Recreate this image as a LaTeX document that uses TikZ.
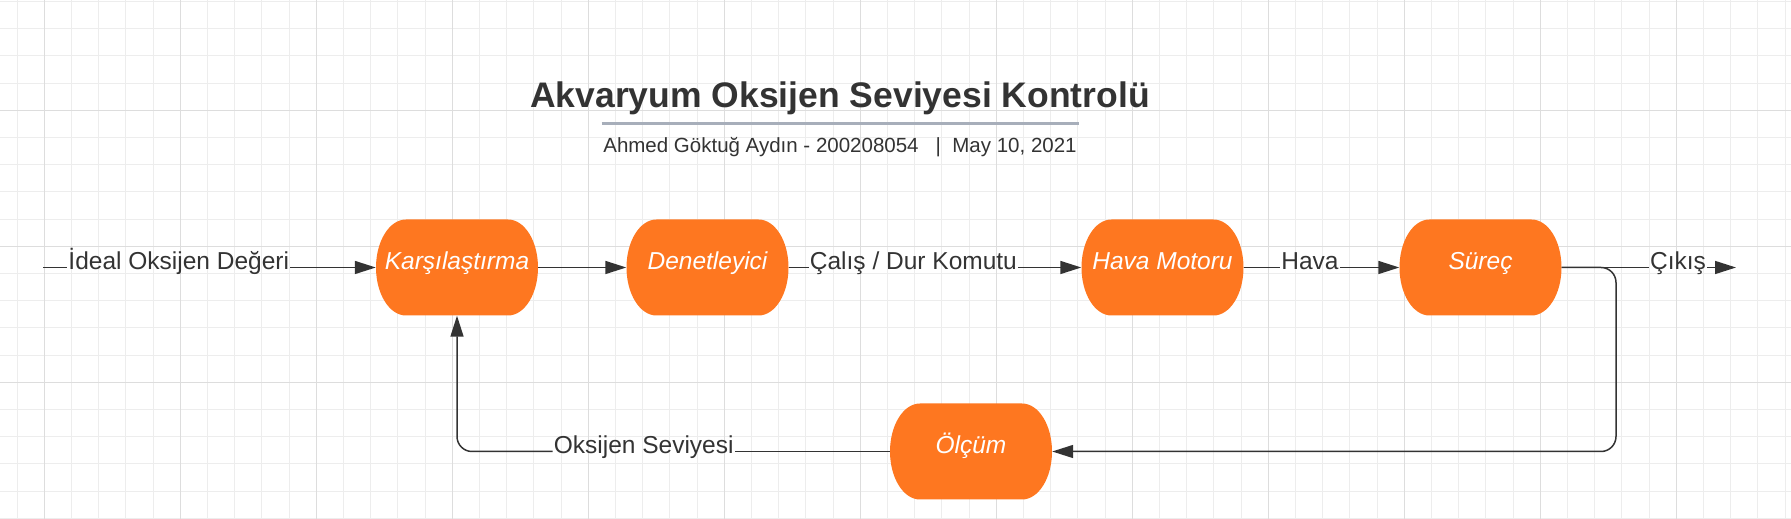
\documentclass[tikz,border=0pt]{standalone}
\usepackage{fontspec}
\setmainfont{Liberation Sans}
\usetikzlibrary{arrows.meta}
\definecolor{turuncu}{HTML}{FE7720}
\definecolor{koyu}{HTML}{333333}
\definecolor{izgara}{HTML}{EDEDED}
\definecolor{izgarakoyu}{HTML}{DDDDDD}
\definecolor{cizgi}{HTML}{A7AEBA}
\tikzset{
  blok/.style={rectangle, minimum width=162pt, minimum height=96pt, inner sep=0pt,
    text=white, font=\itshape\fontsize{24.5}{28}\selectfont, text height=.75em, text depth=.25em,
    path picture={\fill[turuncu] ([xshift=30pt]path picture bounding box.north west)
      -- ([xshift=-30pt]path picture bounding box.north east)
      arc[start angle=90, end angle=-90, x radius=30pt, y radius=48pt]
      -- ([xshift=30pt]path picture bounding box.south west)
      arc[start angle=270, end angle=90, x radius=30pt, y radius=48pt] -- cycle;}},
  etiket/.style={text=koyu, font=\fontsize{24.5}{28}\selectfont, text height=.75em, text depth=.25em,
    inner xsep=1pt, inner ysep=0pt},
  hat/.style={draw=koyu, line width=1.5pt},
  ok/.style={hat, -{Triangle[length=21pt,width=13pt]}}
}
\begin{document}
\begin{tikzpicture}[x=1pt,y=1pt]
\useasboundingbox (0,0) rectangle (1791,519);
\foreach \i in {0,...,65} \draw[izgara, line width=1pt] (17.1+27.2*\i,0) -- (17.1+27.2*\i,519);
\foreach \j in {0,...,19} \draw[izgara, line width=1pt] (0,517.5-27.2*\j) -- (1791,517.5-27.2*\j);
\foreach \i in {0,...,12} \draw[izgarakoyu, line width=1pt] (44.3+136*\i,0) -- (44.3+136*\i,519);
\foreach \j in {0,...,2} \draw[izgarakoyu, line width=1pt] (0,408.7-136*\j) -- (1791,408.7-136*\j);

\node[anchor=base, text=koyu, font=\bfseries\fontsize{35.5}{42}\selectfont] (baslik) at (840,411.5) {Akvaryum Oksijen Seviyesi Kontrolü};
\draw[cizgi, line width=3pt] (601.5,395.5) -- (1078.5,395.5);
\node[anchor=base, text=koyu, font=\fontsize{20.5}{24}\selectfont] (yazar) at (840,366.3) {Ahmed Göktuğ Aydın - 200208054 \ \ |\ \ May 10, 2021};

\node[blok] (kars) at (457,251.5) {Karşılaştırma};
\node[blok] (dene) at (707.5,251.5) {Denetleyici};
\node[blok] (motor) at (1162.5,251.5) {Hava Motoru};
\node[blok] (surec) at (1480.5,251.5) {Süreç};
\node[blok] (olcum) at (971,67.5) {Ölçüm};

\coordinate (giris) at (43.4,251.5);
\coordinate (cikis) at (1736,251.5);
\coordinate (donus) at (1616,67.5);
\node[etiket] (ideal) at (178.8,251.5) {İdeal Oksijen Değeri};
\node[etiket] (komut) at (913.4,251.5) {Çalış / Dur Komutu};
\node[etiket] (hava) at (1310,251.5) {Hava};
\node[etiket] (cik) at (1678,251.5) {Çıkış};
\node[etiket] (seviye) at (643.7,67.5) {Oksijen Seviyesi};

\draw[hat] (giris) -- (ideal.west);
\draw[ok] (ideal.east) -- (kars.west);
\draw[ok] (kars.east) -- (dene.west);
\draw[hat] (dene.east) -- (komut.west);
\draw[ok] (komut.east) -- (motor.west);
\draw[hat] (motor.east) -- (hava.west);
\draw[ok] (hava.east) -- (surec.west);
\draw[hat] (surec.east) -- (cik.west);
\draw[ok] (cik.east) -- (cikis);
\draw[ok, rounded corners=15pt] (surec.east) -| (donus) -- (olcum.east);
\draw[hat] (olcum.west) -- (seviye.east);
\draw[ok, rounded corners=15pt] (seviye.west) -| (kars.south);
\end{tikzpicture}
\end{document}
